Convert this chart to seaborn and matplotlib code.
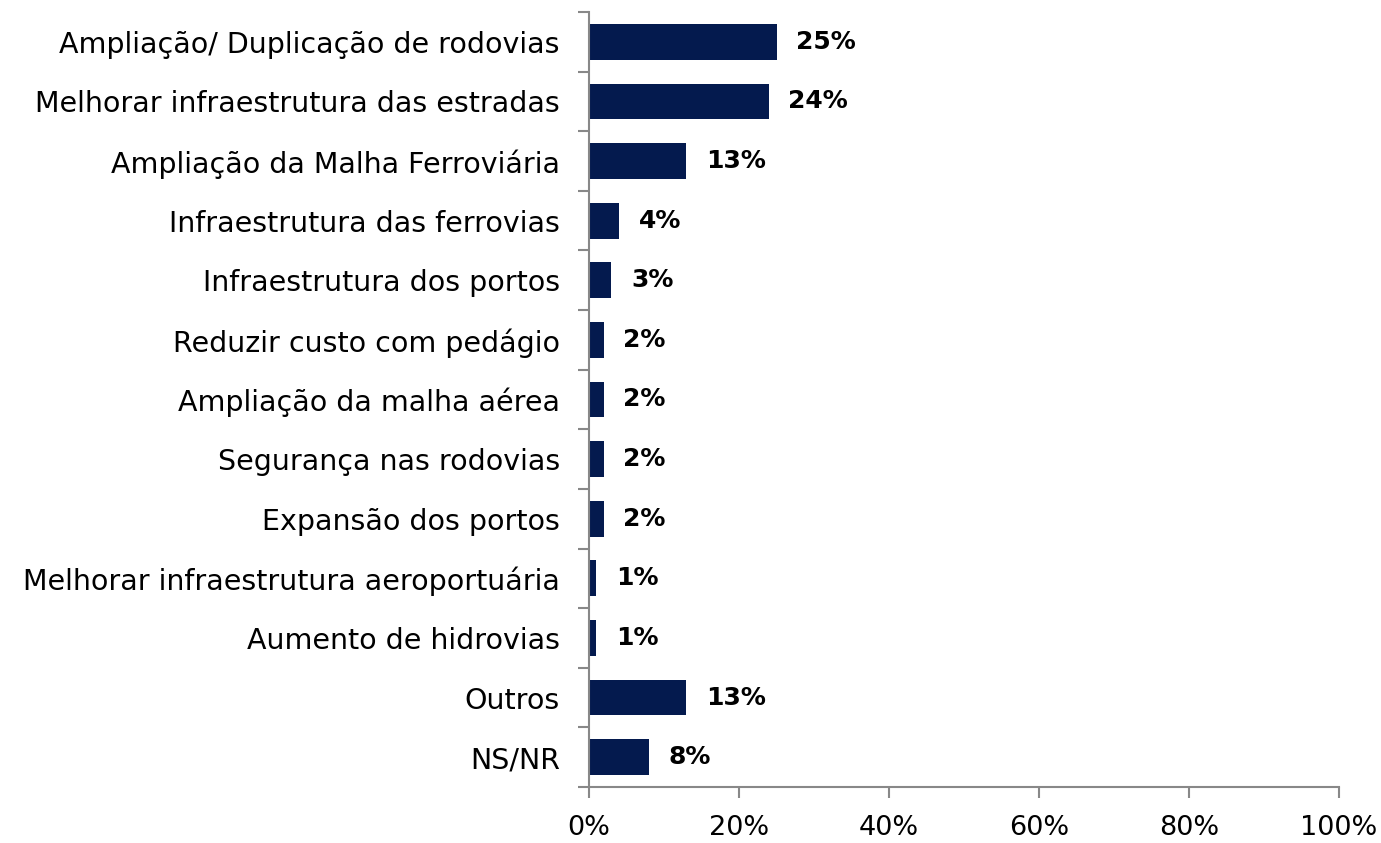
import matplotlib
matplotlib.use("Agg")
import matplotlib.pyplot as plt
import seaborn as sns
import pandas as pd
from matplotlib.ticker import FixedLocator

categories = [
    "Ampliação/ Duplicação de rodovias",
    "Melhorar infraestrutura das estradas",
    "Ampliação da Malha Ferroviária",
    "Infraestrutura das ferrovias",
    "Infraestrutura dos portos",
    "Reduzir custo com pedágio",
    "Ampliação da malha aérea",
    "Segurança nas rodovias",
    "Expansão dos portos",
    "Melhorar infraestrutura aeroportuária",
    "Aumento de hidrovias",
    "Outros",
    "NS/NR",
]
values = [25, 24, 13, 4, 3, 2, 2, 2, 2, 1, 1, 13, 8]
xticks = [0, 20, 40, 60, 80, 100]

sns.set_theme(style="white")
plt.rcParams['font.family'] = ['DejaVu Sans']

df = pd.DataFrame({"cat": categories, "val": values})

fig = plt.figure(figsize=(13.81, 8.43), dpi=100)
ax = fig.add_axes([0.4265, 0.0664, 0.9696 - 0.4265, 0.9858 - 0.0664])
sns.barplot(data=df, x="val", y="cat", color="#041A4E", saturation=1,
            width=0.6, ax=ax, orient="h", linewidth=0)

ax.set_xlim(0, 100)
ax.set_ylim(len(categories) - 0.5, -0.5)
ax.set_xticks(xticks)
ax.set_xticklabels([f"{t}%" for t in xticks], fontsize=19.5, color="black")
ax.tick_params(axis="y", labelsize=20.5, length=0, pad=21, labelcolor="black")
ax.yaxis.set_minor_locator(FixedLocator([i - 0.5 for i in range(len(categories) + 1)]))
ax.tick_params(axis="y", which="minor", length=8, color="#888888", width=1.5, left=True)
ax.tick_params(axis="x", length=8, color="#888888", width=1.5, bottom=True, pad=12)
ax.set_xlabel("")
ax.set_ylabel("")
for s in ["top", "right"]:
    ax.spines[s].set_visible(False)
for s in ["left", "bottom"]:
    ax.spines[s].set_color("#888888")
    ax.spines[s].set_linewidth(1.5)

for i, v in enumerate(values):
    ax.annotate(f"{v}%", xy=(v, i), xytext=(14, 0), textcoords="offset points",
                va="center", ha="left", fontsize=18, fontweight="bold", color="black")

fig.savefig("out.png", dpi=100)
